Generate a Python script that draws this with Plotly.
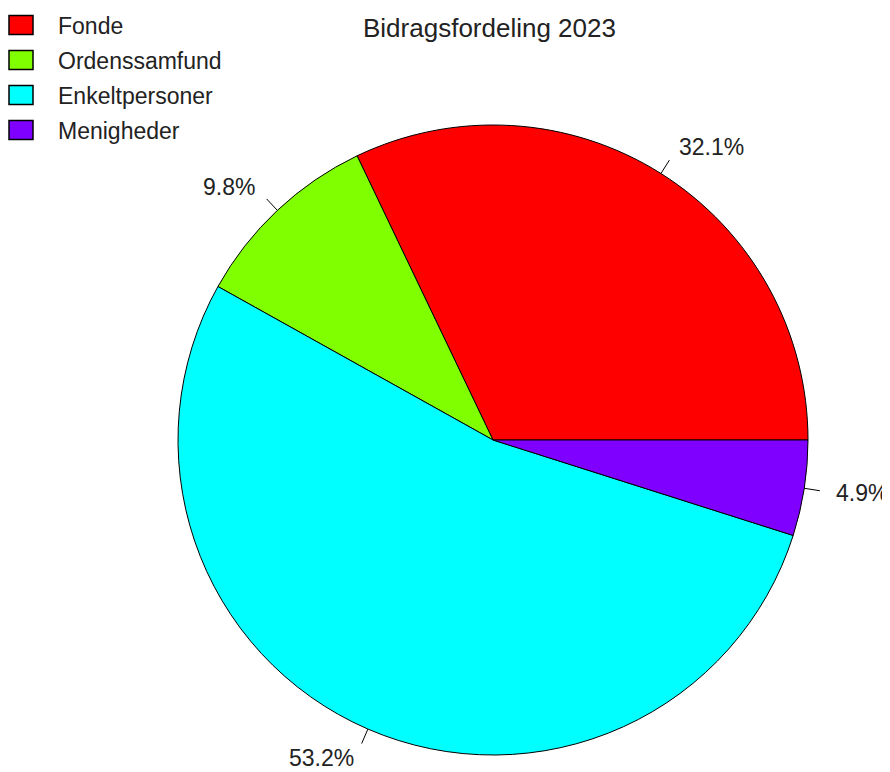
import math
import plotly.graph_objects as go

categories = ["Fonde", "Ordenssamfund", "Enkeltpersoner", "Menigheder"]
values = [32.1, 9.8, 53.2, 4.9]
colors = ["#FF0000", "#80FF00", "#00FFFF", "#8000FF"]
label_texts = ["32.1%", "9.8%", "53.2%", "4.9%"]
title_text = "Bidragsfordeling 2023"

OFF = 8  # page body margin of the browser
W, H = 890 - OFF, 772 - OFF
cx, cy, r = 493 - OFF, 440 - OFF, 315  # pixel geometry of the pie (figure px)


def px(x):
    return x / W


def py(y):
    return 1 - y / H


total = sum(values)
first_deg = 360 * values[0] / total

fig = go.Figure(go.Pie(
    labels=categories, values=values, sort=False,
    direction="counterclockwise", rotation=90 - first_deg,
    marker=dict(colors=colors, line=dict(color="black", width=1)),
    textinfo="none", hoverinfo="label+percent",
    domain=dict(x=[px(cx - r), px(cx + r)], y=[py(cy + r), py(cy - r)]),
    showlegend=False,
))

cum = 0.0
shapes, annotations = [], []
for v, t in zip(values, label_texts):
    mid = 2 * math.pi * (cum + v / 2) / total
    cum += v
    c, s = math.cos(mid), math.sin(mid)
    x0, y0 = cx + r * c, cy - r * s
    x1, y1 = cx + 1.05 * r * c, cy - 1.05 * r * s
    xl, yl = cx + 1.1 * r * c, cy - 1.1 * r * s
    shapes.append(dict(type="line", xref="paper", yref="paper",
                       x0=px(x0), y0=py(y0), x1=px(x1), y1=py(y1),
                       line=dict(color="black", width=1)))
    annotations.append(dict(text=t, xref="paper", yref="paper", x=px(xl), y=py(yl),
                            xanchor="left" if c > 0 else "right", yanchor="middle",
                            showarrow=False, borderpad=0,
                            font=dict(size=23, color="#222222")))

# legend (built from the category/colour arrays)
for i, (name, col) in enumerate(zip(categories, colors)):
    yc = 25 + 35 * i - OFF
    shapes.append(dict(type="rect", xref="paper", yref="paper",
                       x0=px(9 - OFF), x1=px(33 - OFF), y0=py(yc - 9.5), y1=py(yc + 9.5),
                       fillcolor=col, line=dict(color="black", width=1.5)))
    annotations.append(dict(text=name, xref="paper", yref="paper", x=px(57 - OFF), y=py(yc + 1),
                            xanchor="left", yanchor="middle", showarrow=False, borderpad=0,
                            font=dict(size=23, color="#222222")))

annotations.append(dict(text=title_text, xref="paper", yref="paper",
                        x=px(489 - OFF), y=py(28 - OFF), xanchor="center", yanchor="middle",
                        showarrow=False, borderpad=0, font=dict(size=26, color="#222222")))

fig.update_layout(
    width=W, height=H, margin=dict(l=0, r=0, t=0, b=0),
    paper_bgcolor="white", plot_bgcolor="white",
    font=dict(family="Liberation Sans, Arial, sans-serif", color="black"),
    shapes=shapes, annotations=annotations,
    showlegend=False,
)

fig.write_html("out.html")
